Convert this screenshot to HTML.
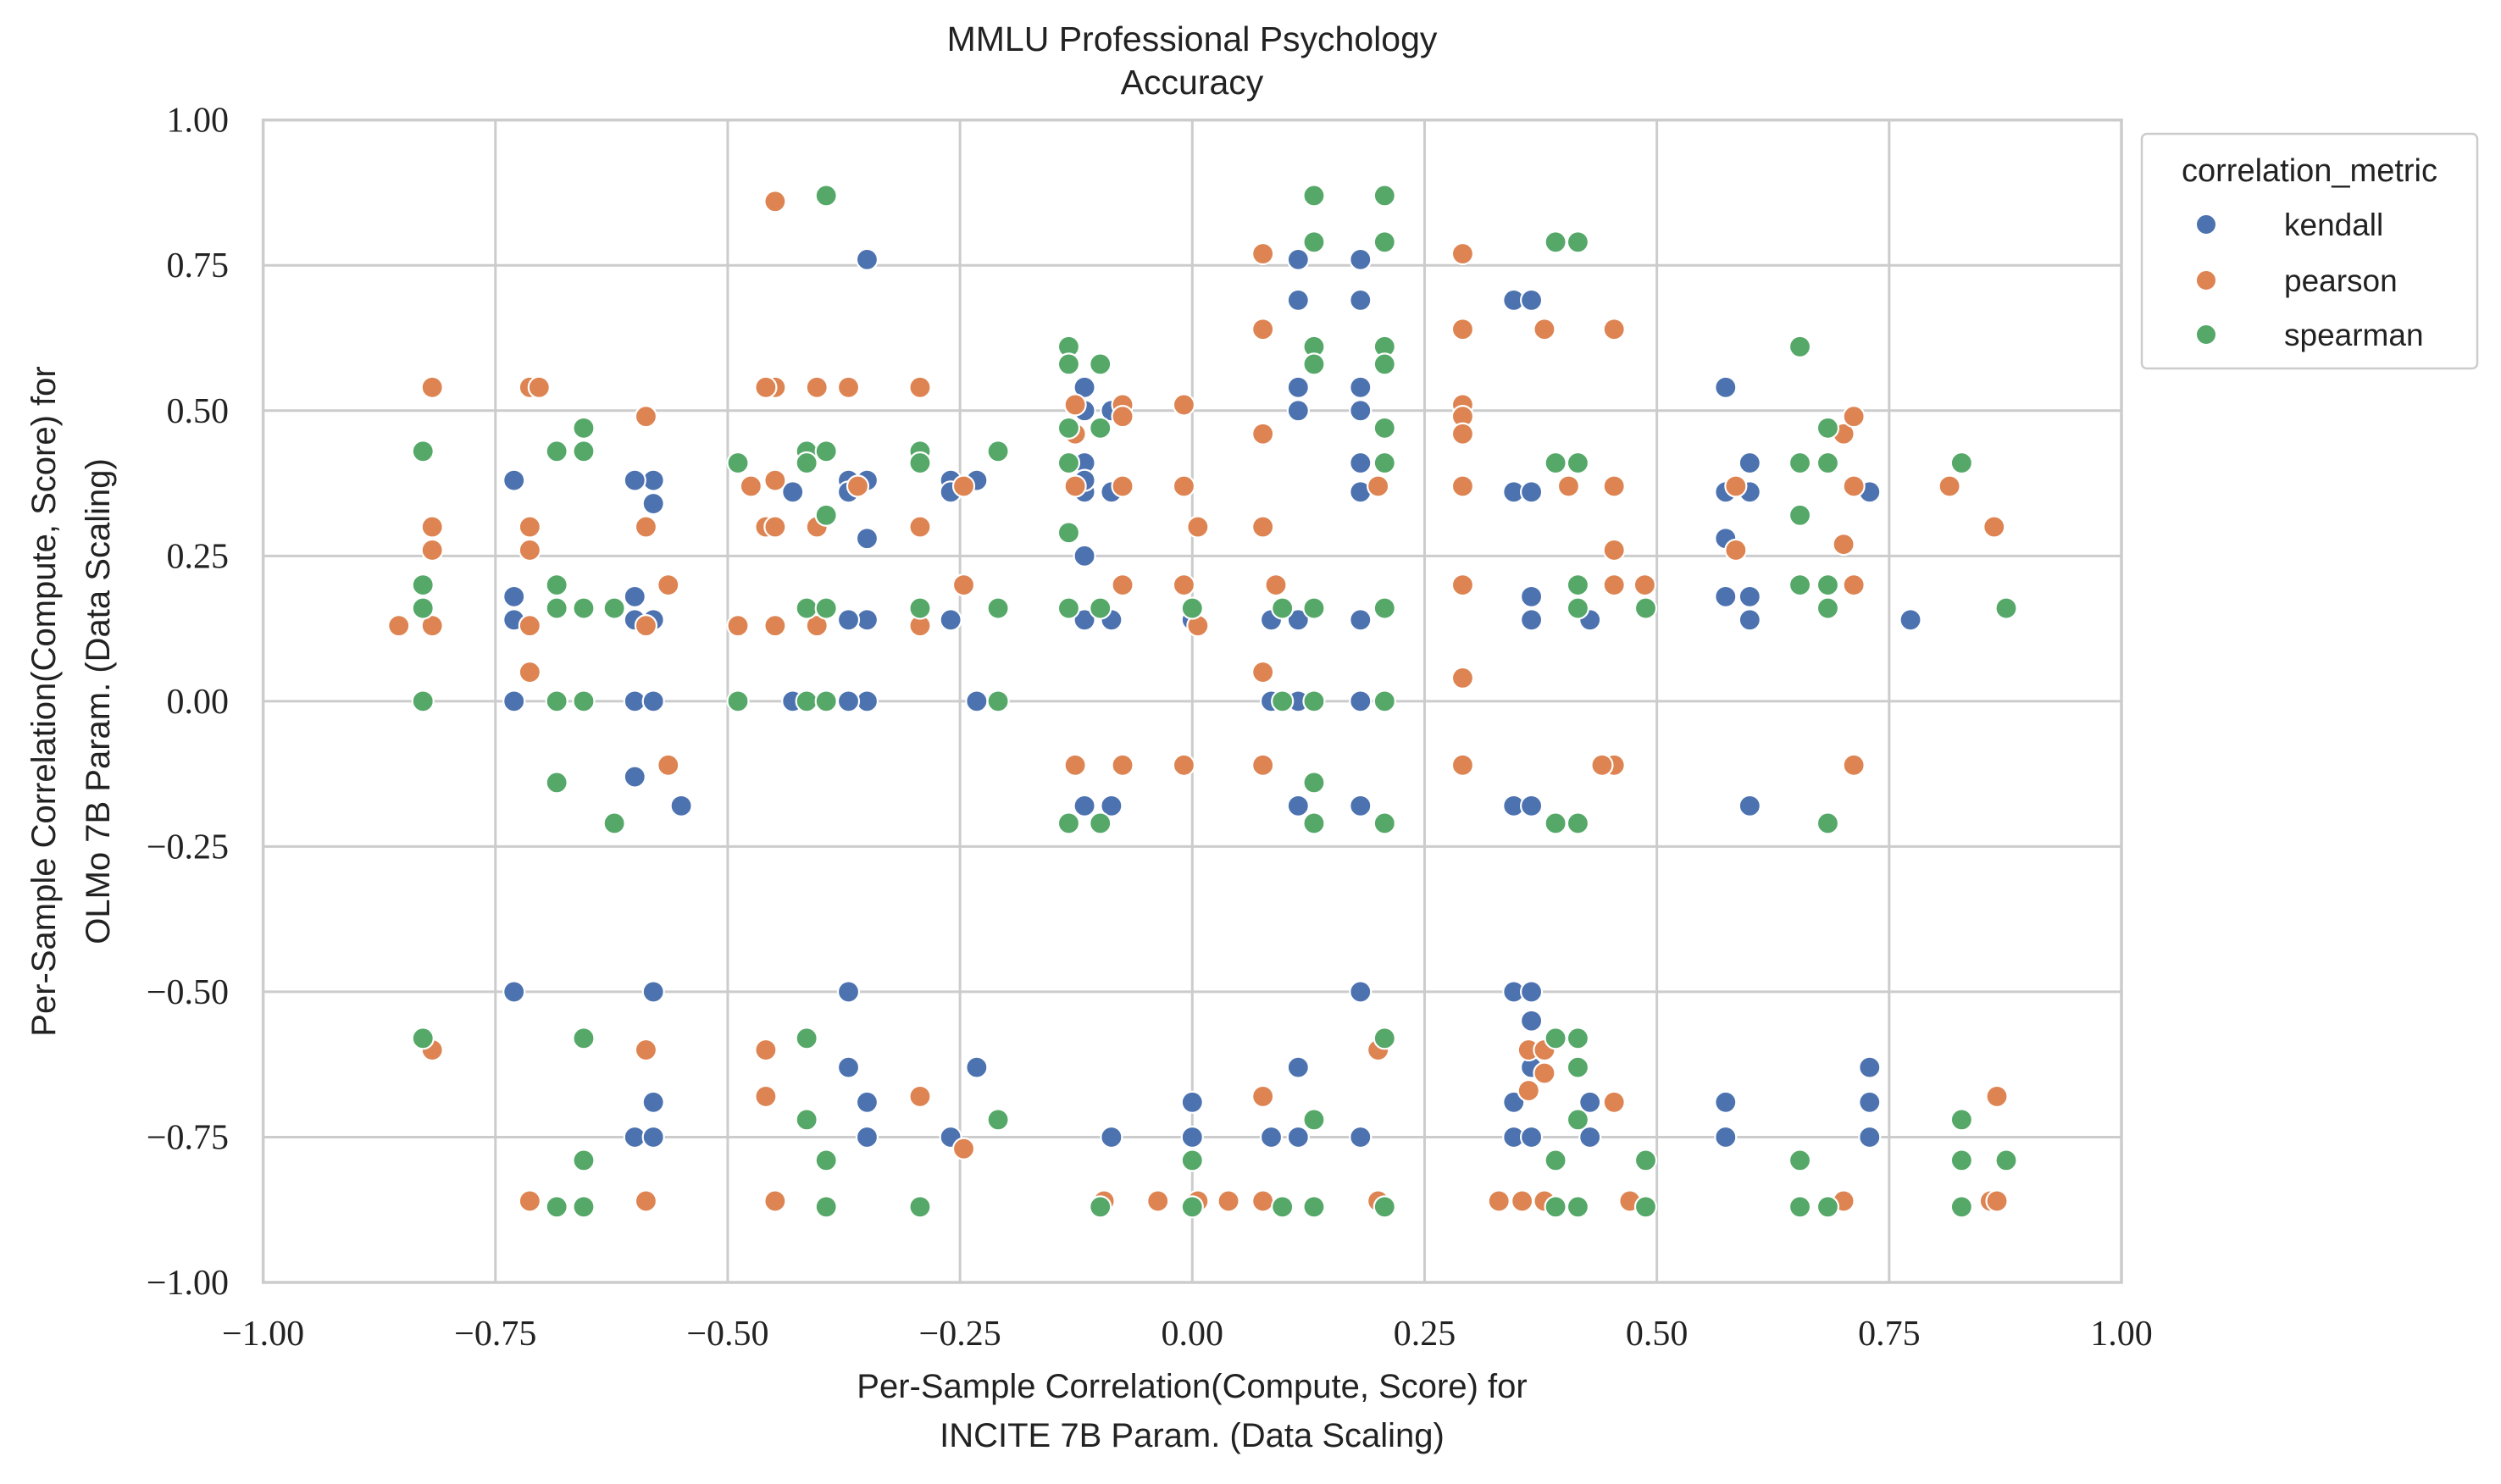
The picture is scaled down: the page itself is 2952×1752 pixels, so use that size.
<!DOCTYPE html>
<html><head><meta charset="utf-8"><style>
html,body{margin:0;padding:0;background:#fff;}
svg{display:block;}
.t{font-family:"Liberation Sans",sans-serif;fill:#222;}
.n{font-family:"Liberation Serif",serif;fill:#222;}
</style></head><body>
<svg id="chart" width="2952" height="1752" viewBox="0 0 2952 1752" xmlns="http://www.w3.org/2000/svg">
<text class="t" x="1407" y="60" font-size="41" text-anchor="middle">MMLU Professional Psychology</text>
<text class="t" x="1407" y="111" font-size="41" text-anchor="middle">Accuracy</text>
<g id="grid"></g>
<g id="marks"></g>
<g id="ticks"></g>
<text class="t" x="1407" y="1650" font-size="40" text-anchor="middle">Per-Sample Correlation(Compute, Score) for</text>
<text class="t" x="1407" y="1708" font-size="40" text-anchor="middle">INCITE 7B Param. (Data Scaling)</text>
<text class="t" transform="translate(65,828) rotate(-90)" font-size="40" text-anchor="middle">Per-Sample Correlation(Compute, Score) for</text>
<text class="t" transform="translate(129,828) rotate(-90)" font-size="40" text-anchor="middle">OLMo 7B Param. (Data Scaling)</text>
<g>
<rect x="2528" y="158" width="396" height="277" rx="6" fill="#fff" stroke="#ccc" stroke-width="2.5"/>
<text class="t" x="2726" y="214" font-size="38" text-anchor="middle">correlation_metric</text>
<circle cx="2604" cy="265" r="12" fill="#4c72b0" stroke="#fff" stroke-width="2"/>
<text class="t" x="2696" y="278" font-size="37">kendall</text>
<circle cx="2604" cy="331" r="12" fill="#dd8452" stroke="#fff" stroke-width="2"/>
<text class="t" x="2696" y="344" font-size="37">pearson</text>
<circle cx="2604" cy="395" r="12" fill="#55a868" stroke="#fff" stroke-width="2"/>
<text class="t" x="2696" y="408" font-size="37">spearman</text>
</g>
</svg>
<script>
const tickValues = [-1,-0.75,-0.5,-0.25,0,0.25,0.5,0.75,1];
const tickLabels = ["\u22121.00","\u22120.75","\u22120.50","\u22120.25","0.00","0.25","0.50","0.75","1.00"];
const seriesNames = ["kendall","pearson","spearman"];
const seriesColors = ["#4c72b0","#dd8452","#55a868"];
const kendallX = [-0.73,-0.73,-0.73,-0.73,-0.73,-0.58,-0.58,-0.60,-0.60,-0.60,-0.60,-0.58,-0.58,-0.60,-0.55,-0.58,-0.58,-0.60,-0.58,-0.43,-0.43,-0.37,-0.37,-0.35,-0.35,-0.35,-0.35,-0.35,-0.37,-0.37,-0.37,-0.37,-0.35,-0.35,-0.26,-0.26,-0.26,-0.232,-0.232,-0.232,-0.26,-0.116,-0.116,-0.116,-0.116,-0.116,-0.116,-0.116,-0.116,-0.087,-0.087,-0.087,-0.087,-0.087,0,0,0,0.085,0.085,0.085,0.114,0.114,0.114,0.114,0.114,0.114,0.114,0.114,0.114,0.181,0.181,0.181,0.181,0.181,0.181,0.181,0.181,0.181,0.181,0.181,0.346,0.346,0.346,0.346,0.346,0.346,0.365,0.365,0.365,0.365,0.365,0.365,0.365,0.365,0.365,0.428,0.428,0.428,0.574,0.574,0.574,0.574,0.574,0.574,0.60,0.60,0.60,0.60,0.60,0.729,0.729,0.729,0.729,0.773];
const kendallY = [0.38,0.18,0.14,0,-0.50,0.34,0.38,0.38,0.18,0.14,0,0.14,0,-0.13,-0.18,-0.50,-0.69,-0.75,-0.75,0.36,0,0.38,0.36,0.76,0.38,0.28,0.14,0,0.14,0,-0.50,-0.63,-0.69,-0.75,0.38,0.36,0.14,0.38,0,-0.63,-0.75,0.54,0.50,0.41,0.36,0.25,0.14,-0.18,0.38,0.50,0.36,0.14,-0.18,-0.75,0.14,-0.69,-0.75,0.14,0,-0.75,0.76,0.69,0.54,0.50,0.14,0,-0.18,-0.63,-0.75,0.76,0.69,0.54,0.50,0.41,0.36,0.14,0,-0.18,-0.50,-0.75,0.69,0.36,-0.18,-0.50,-0.69,-0.75,0.69,0.36,0.18,0.14,-0.18,-0.50,-0.55,-0.63,-0.75,0.14,-0.69,-0.75,0.54,0.36,0.28,0.18,-0.69,-0.75,0.41,0.36,0.18,0.14,-0.18,0.36,-0.63,-0.69,-0.75,0.14,-0.69];
const pearsonX = [-0.854,-0.818,-0.818,-0.818,-0.818,-0.818,-0.713,-0.703,-0.713,-0.713,-0.713,-0.713,-0.713,-0.588,-0.588,-0.588,-0.588,-0.588,-0.564,-0.564,-0.489,-0.475,-0.459,-0.449,-0.449,-0.449,-0.459,-0.449,-0.449,-0.459,-0.459,-0.449,-0.404,-0.404,-0.404,-0.370,-0.360,-0.293,-0.293,-0.293,-0.293,-0.246,-0.246,-0.246,-0.126,-0.126,-0.126,-0.126,-0.075,-0.075,-0.075,-0.075,-0.075,-0.095,-0.037,-0.009,-0.009,-0.009,-0.009,0.006,0.006,0.006,0.039,0.076,0.076,0.076,0.076,0.076,0.076,0.076,0.076,0.090,0.200,0.200,0.200,0.291,0.291,0.291,0.291,0.291,0.291,0.291,0.291,0.291,0.362,0.362,0.330,0.355,0.379,0.379,0.379,0.379,0.405,0.454,0.454,0.454,0.454,0.454,0.454,0.441,0.471,0.487,0.585,0.585,0.701,0.701,0.712,0.712,0.712,0.712,0.701,0.815,0.863,0.859,0.866,0.866];
const pearsonY = [0.13,0.54,0.30,0.26,0.13,-0.60,0.54,0.54,0.30,0.26,0.13,0.05,-0.86,0.49,0.30,0.13,-0.60,-0.86,0.20,-0.11,0.13,0.37,0.30,0.30,0.38,0.54,0.54,0.86,0.13,-0.60,-0.68,-0.86,0.54,0.30,0.13,0.54,0.37,0.54,0.30,0.13,-0.68,0.37,0.20,-0.77,0.51,0.46,0.37,-0.11,0.51,0.49,0.37,0.20,-0.11,-0.86,-0.86,0.51,0.37,0.20,-0.11,0.30,0.13,-0.86,-0.86,0.77,0.64,0.46,0.30,0.05,-0.11,-0.68,-0.86,0.20,0.37,-0.60,-0.86,0.77,0.64,0.51,0.49,0.46,0.37,0.20,0.04,-0.11,-0.60,-0.67,-0.86,-0.86,0.64,-0.60,-0.64,-0.86,0.37,0.64,0.37,0.26,0.20,-0.11,-0.69,-0.11,-0.86,0.20,0.37,0.26,0.46,0.27,0.49,0.37,0.20,-0.11,-0.86,0.37,0.30,-0.86,-0.86,-0.68];
const spearmanX = [-0.828,-0.828,-0.828,-0.828,-0.828,-0.684,-0.684,-0.684,-0.684,-0.684,-0.684,-0.655,-0.655,-0.655,-0.655,-0.655,-0.655,-0.655,-0.622,-0.622,-0.489,-0.489,-0.415,-0.415,-0.415,-0.415,-0.415,-0.415,-0.394,-0.394,-0.394,-0.394,-0.394,-0.394,-0.394,-0.293,-0.293,-0.293,-0.293,-0.209,-0.209,-0.209,-0.209,-0.133,-0.133,-0.133,-0.133,-0.133,-0.133,-0.133,-0.099,-0.099,-0.099,-0.099,-0.099,0,0,0,0.097,0.097,0.097,0.131,0.131,0.131,0.131,0.131,0.131,0.131,0.131,0.131,0.131,0.207,0.207,0.207,0.207,0.207,0.207,0.207,0.207,0.207,0.207,0.207,0.391,0.391,0.391,0.391,0.391,0.391,0.415,0.415,0.415,0.415,0.415,0.415,0.415,0.415,0.415,0.488,0.488,0.488,0.654,0.654,0.654,0.654,0.654,0.654,0.684,0.684,0.684,0.684,0.684,0.684,0.828,0.828,0.828,0.828,0.876,0.876];
const spearmanY = [0.43,0.20,0.16,0,-0.58,0.43,0.20,0.16,0,-0.14,-0.87,0.47,0.43,0.16,0,-0.58,-0.79,-0.87,-0.21,0.16,0.41,0,0.43,0.41,0.16,0,-0.58,-0.72,0.87,0.43,0.32,0.16,0,-0.79,-0.87,0.43,0.41,0.16,-0.87,0.43,0.16,0,-0.72,0.61,0.58,0.47,0.41,0.29,0.16,-0.21,0.58,0.47,0.16,-0.21,-0.87,0.16,-0.79,-0.87,0.16,0,-0.87,0.87,0.79,0.61,0.58,0.16,0,-0.14,-0.21,-0.72,-0.87,0.87,0.79,0.61,0.58,0.47,0.41,0.16,0,-0.21,-0.58,-0.87,0.79,0.41,-0.21,-0.58,-0.79,-0.87,0.79,0.41,0.20,0.16,-0.21,-0.58,-0.63,-0.72,-0.87,0.16,-0.79,-0.87,0.61,0.41,0.32,0.20,-0.79,-0.87,0.47,0.41,0.20,0.16,-0.21,-0.87,0.41,-0.72,-0.79,-0.87,0.16,-0.79];

const NS = "http://www.w3.org/2000/svg";
const L = 310.6, R = 2504, T = 141.7, B = 1514;
function xs(v){ return L + (v + 1) / 2 * (R - L); }
function ys(v){ return B - (v + 1) / 2 * (B - T); }
function mk(tag, attrs, parent){
  const e = document.createElementNS(NS, tag);
  for (const k in attrs) e.setAttribute(k, attrs[k]);
  parent.appendChild(e);
  return e;
}
const grid = document.getElementById('grid');
const ticks = document.getElementById('ticks');
tickValues.forEach((v, i) => {
  const gx = mk('line', {x1: xs(v), x2: xs(v), y1: T, y2: B, stroke: '#cccccc', 'stroke-width': 3}, grid);
  
  
  const gy = mk('line', {x1: L, x2: R, y1: ys(v), y2: ys(v), stroke: '#cccccc', 'stroke-width': 3}, grid);
  
  
  const tx = mk('text', {x: xs(v), y: 1588, 'font-size': 42, 'text-anchor': 'middle', class: 'n'}, ticks);
  tx.textContent = tickLabels[i];
  
  
  const ty = mk('text', {x: 270, y: ys(v) + 14, 'font-size': 42, 'text-anchor': 'end', class: 'n'}, ticks);
  ty.textContent = tickLabels[i];
  
  
});
const frame = mk('rect', {x: L, y: T, width: R - L, height: B - T, fill: 'none', stroke: '#cccccc', 'stroke-width': 3.5}, grid);



const marks = document.getElementById('marks');
const allX = [kendallX, pearsonX, spearmanX];
const allY = [kendallY, pearsonY, spearmanY];
for (let s = 0; s < 3; s++) {
  const xsArr = allX[s], ysArr = allY[s];
  for (let i = 0; i < xsArr.length; i++) {
    const c = mk('circle', {cx: xs(xsArr[i]), cy: ys(ysArr[i]), r: 12.5, fill: seriesColors[s], stroke: '#fff', 'stroke-width': 2.2}, marks);
    
    
  }
}
</script>
</body></html>
